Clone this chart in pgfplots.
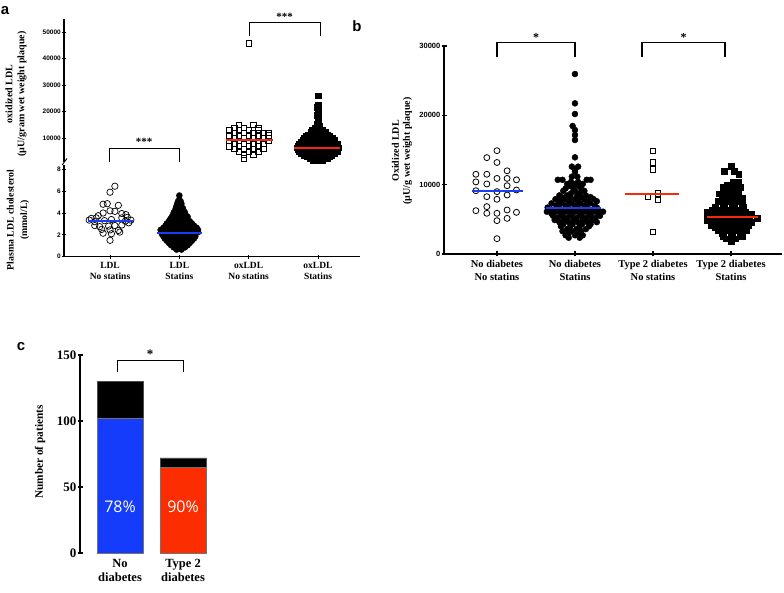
\documentclass[border=0pt]{standalone}
\usepackage{pgfplots}
\pgfplotsset{compat=1.18}
\usepackage{fontspec}
\setmainfont{Liberation Serif}
\setsansfont{Liberation Sans}
\newfontfamily\osans{Open Sans}
\definecolor{mblue}{RGB}{25,60,245}
\definecolor{mred}{RGB}{245,40,10}
\definecolor{bblue}{RGB}{20,60,250}
\definecolor{bred}{RGB}{252,45,0}
\pgfplotsset{
  panel/.style={scale only axis, clip=false, clip marker paths=true, anchor=south west,
    scaled y ticks=false, scaled x ticks=false, tick align=outside},
  noarrows/.style={axis line style={-}, every outer x axis line/.append style={-},
    every outer y axis line/.append style={-}, x axis line style={-}, y axis line style={-}},
}
\begin{document}
\begin{tikzpicture}
\path[use as bounding box] (0pt,0pt) rectangle (784pt,592pt);

% ---------------- Panel a, upper (oxLDL) ----------------
\begin{axis}[panel, at={(64pt,430.15pt)}, width=296pt, height=143.1pt,
  xmin=0.336, xmax=4.606, ymin=1000, ymax=55000,
  axis x line=none, axis y line=left, noarrows, axis line style={line width=1.1pt},
  ytick={10000,20000,30000,40000,50000}, yticklabels={10000,20000,30000,40000,50000},
  major tick length=4pt, tick style={black, line width=0.9pt},
  yticklabel style={font=\sffamily\bfseries\fontsize{6.5}{7}\selectfont, inner sep=1pt}]
\addplot[black, only marks, mark=square, mark size=2.8pt, mark options={line width=0.7pt}] coordinates {
(3.0,45700)
(2.86,14900) (3.07,14900)
(2.79,13900) (2.93,13900) (3.14,13900)
(2.72,12900) (2.86,12900) (3.0,12900) (3.14,12900)
(2.79,11900) (2.93,11900) (3.07,11900) (3.21,11900) (3.28,11900)
(2.72,10900) (2.86,10900) (3.0,10900) (3.14,10900) (3.28,10900)
(2.79,9900) (2.93,9900) (3.07,9900) (3.21,9900)
(2.72,8900) (2.86,8900) (3.0,8900) (3.14,8900) (3.28,8900)
(2.79,7900) (2.93,7900) (3.07,7900) (3.21,7900)
(2.72,6900) (2.86,6900) (3.0,6900) (3.14,6900)
(2.79,5900) (2.93,5900) (3.07,5900) (3.21,5900)
(2.86,4900) (3.0,4900) (3.14,4900)
(2.93,3700) (3.07,3700)
(2.93,2400)
};
\addplot[black, only marks, mark=square*, mark size=2.8pt] coordinates {
(4.0,26000)
(4.0,22500) (3.99,21700) (4.0,20900) (4.01,20100) (4.0,19300) (3.99,18500) (4.0,17700) (4.01,16900) (4.0,16100) (3.99,15300)
(3.98,14500) (4.02,14500)
(3.95,13700) (4.02,13700)
(3.92,12900) (4.0,12900) (4.07,12900)
(3.9,12100) (3.97,12100) (4.04,12100) (4.1,12100)
(3.86,11300) (3.93,11300) (4.0,11300) (4.07,11300) (4.13,11300)
(3.83,10600) (3.9,10600) (3.97,10600) (4.04,10600) (4.11,10600) (4.17,10600)
(3.8,9900) (3.87,9900) (3.94,9900) (4.01,9900) (4.08,9900) (4.15,9900) (4.21,9900)
(3.78,9200) (3.85,9200) (3.92,9200) (3.99,9200) (4.06,9200) (4.13,9200) (4.2,9200) (4.24,9200)
(3.75,8500) (3.82,8500) (3.89,8500) (3.96,8500) (4.03,8500) (4.1,8500) (4.17,8500) (4.24,8500)
(3.73,7800) (3.8,7800) (3.87,7800) (3.94,7800) (4.01,7800) (4.08,7800) (4.15,7800) (4.22,7800) (4.28,7800)
(3.71,7100) (3.78,7100) (3.85,7100) (3.92,7100) (3.99,7100) (4.06,7100) (4.13,7100) (4.2,7100) (4.27,7100)
(3.7,6400) (3.77,6400) (3.84,6400) (3.91,6400) (3.98,6400) (4.05,6400) (4.12,6400) (4.19,6400) (4.26,6400) (4.3,6400)
(3.71,5700) (3.78,5700) (3.85,5700) (3.92,5700) (3.99,5700) (4.06,5700) (4.13,5700) (4.2,5700) (4.27,5700)
(3.73,5000) (3.8,5000) (3.87,5000) (3.94,5000) (4.01,5000) (4.08,5000) (4.15,5000) (4.22,5000) (4.28,5000)
(3.76,4300) (3.83,4300) (3.9,4300) (3.97,4300) (4.04,4300) (4.11,4300) (4.18,4300) (4.24,4300)
(3.8,3600) (3.87,3600) (3.94,3600) (4.01,3600) (4.08,3600) (4.15,3600) (4.2,3600)
(3.84,2900) (3.91,2900) (3.98,2900) (4.05,2900) (4.12,2900) (4.17,2900)
(3.88,2200) (3.95,2200) (4.02,2200) (4.09,2200) (4.13,2200)
(3.93,1600) (4.0,1600) (4.07,1600)
};
\addplot[mred, line width=1.8pt] coordinates {(2.67,9250) (3.35,9250)};
\addplot[mred, line width=1.8pt] coordinates {(3.65,6300) (4.32,6300)};
\end{axis}

% ---------------- Panel a, lower (LDL) ----------------
\begin{axis}[panel, at={(64pt,335.3pt)}, width=296pt, height=91.8pt,
  xmin=0.336, xmax=4.606, ymin=0, ymax=8.4,
  axis x line=bottom, axis y line=left, noarrows, axis line style={line width=1.1pt},
  xtick={1,2,3,4},
  xticklabels={{LDL\\No statins},{LDL\\Statins},{oxLDL\\No statins},{oxLDL\\Statins}},
  xticklabel style={align=center, font=\bfseries\fontsize{9.5}{11}\selectfont},
  ytick={0,2,4,6,8}, yticklabels={0,2,4,6,8},
  major tick length=4pt, tick style={black, line width=0.9pt},
  yticklabel style={font=\sffamily\bfseries\fontsize{6.5}{7}\selectfont, inner sep=1pt}]
\addplot[black, only marks, mark=o, mark size=3.2pt, mark options={line width=0.7pt}] coordinates {
(1.07,6.45) (1.0,5.9) (0.9,4.8) (0.96,4.85) (1.12,4.7) (1.0,4.2) (1.07,4.15) (1.17,3.95) (1.23,3.85) (0.9,4.0) (0.83,3.75) (0.73,3.5) (0.8,3.55) (1.17,3.55) (1.25,3.6) (0.7,3.35) (0.78,3.2) (0.92,3.3) (1.02,3.4) (1.22,3.25) (1.3,3.35) (0.78,2.85) (0.85,2.75) (0.98,2.8) (1.07,2.85) (1.17,2.9) (1.27,3.1) (0.88,2.5) (1.0,2.45) (1.12,2.4) (0.9,2.15) (1.02,2.1) (1.14,2.25) (1.0,1.5)
};
\addplot[black, only marks, mark=*, mark size=3pt] coordinates {
(2.0,5.6) (2.0,5.25) (1.98,5.05) (2.02,5.05) (1.97,4.85) (2.03,4.85) (1.96,4.65) (2.02,4.65) (1.95,4.45) (2.01,4.45) (2.05,4.45) (1.94,4.25) (2.0,4.25) (2.06,4.25) (1.92,4.05) (1.98,4.05) (2.04,4.05) (2.08,4.05) (1.91,3.85) (1.97,3.85) (2.03,3.85) (2.09,3.85) (1.89,3.65) (1.95,3.65) (2.01,3.65) (2.07,3.65) (2.12,3.65) (1.87,3.45) (1.93,3.45) (1.99,3.45) (2.05,3.45) (2.11,3.45) (1.85,3.25) (1.91,3.25) (1.97,3.25) (2.03,3.25) (2.09,3.25) (2.15,3.25) (1.82,3.05) (1.88,3.05) (1.94,3.05) (2.0,3.05) (2.06,3.05) (2.12,3.05) (2.18,3.05) (1.8,2.85) (1.86,2.85) (1.92,2.85) (1.98,2.85) (2.04,2.85) (2.1,2.85) (2.16,2.85) (2.21,2.85) (1.77,2.65) (1.83,2.65) (1.89,2.65) (1.95,2.65) (2.01,2.65) (2.07,2.65) (2.13,2.65) (2.19,2.65) (2.25,2.65) (1.73,2.45) (1.79,2.45) (1.85,2.45) (1.91,2.45) (1.97,2.45) (2.03,2.45) (2.09,2.45) (2.15,2.45) (2.21,2.45) (2.27,2.45) (1.74,2.25) (1.8,2.25) (1.86,2.25) (1.92,2.25) (1.98,2.25) (2.04,2.25) (2.1,2.25) (2.16,2.25) (2.22,2.25) (2.27,2.25) (1.75,2.05) (1.81,2.05) (1.87,2.05) (1.93,2.05) (1.99,2.05) (2.05,2.05) (2.11,2.05) (2.17,2.05) (2.23,2.05) (1.77,1.85) (1.83,1.85) (1.89,1.85) (1.95,1.85) (2.01,1.85) (2.07,1.85) (2.13,1.85) (2.19,1.85) (2.23,1.85) (1.79,1.65) (1.85,1.65) (1.91,1.65) (1.97,1.65) (2.03,1.65) (2.09,1.65) (2.15,1.65) (2.21,1.65) (1.82,1.45) (1.88,1.45) (1.94,1.45) (2.0,1.45) (2.06,1.45) (2.12,1.45) (2.18,1.45) (1.85,1.25) (1.91,1.25) (1.97,1.25) (2.03,1.25) (2.09,1.25) (2.15,1.25) (1.88,1.05) (1.94,1.05) (2.0,1.05) (2.06,1.05) (2.12,1.05) (1.92,0.85) (1.98,0.85) (2.04,0.85) (2.08,0.85) (1.96,0.65) (2.03,0.65)
};
\addplot[mblue, line width=1.8pt] coordinates {(0.68,3.3) (1.33,3.3)};
\addplot[mblue, line width=1.8pt] coordinates {(1.68,2.2) (2.33,2.2)};
\draw[line width=0.9pt] (rel axis cs:-0.006,1.0) -- (rel axis cs:0.01,1.07);
\end{axis}

% ---------------- Panel b ----------------
\begin{axis}[panel, at={(444pt,338pt)}, width=338pt, height=208pt,
  xmin=0.321, xmax=4.654, ymin=0, ymax=30000,
  axis x line=bottom, axis y line=left, noarrows, axis line style={line width=1.4pt},
  xtick={1,2,3,4},
  xticklabels={{No diabetes\\No statins},{No diabetes\\Statins},{Type 2 diabetes\\No statins},{Type 2 diabetes\\Statins}},
  xticklabel style={align=center, font=\bfseries\fontsize{10.5}{13}\selectfont},
  ytick={0,10000,20000,30000}, yticklabels={0,10000,20000,30000},
  major tick length=5pt, tick style={black, line width=1.1pt},
  yticklabel style={font=\sffamily\bfseries\fontsize{7.5}{8}\selectfont, inner sep=1pt}]
\addplot[black, only marks, mark=o, mark size=3pt, mark options={line width=0.8pt}] coordinates {
(1.0,14900) (0.87,13900) (1.0,13200) (0.73,11500) (0.87,11500) (1.13,12000) (0.73,10400) (1.0,10900) (1.13,10900) (1.25,10700) (0.87,10100) (1.13,9850) (0.73,9130) (1.0,8990) (1.25,9230) (0.87,8270) (1.0,7890) (1.13,8510) (0.73,6250) (0.87,6830) (0.87,5870) (1.0,5870) (1.0,4810) (1.13,6350) (1.13,5140) (1.25,6010) (1.0,2210)
};
\addplot[black, only marks, mark=*, mark size=3pt] coordinates {
(2,25960) (2,21730) (2,20190) (1.97,18460) (2,17880) (2,17160) (2,16440) (2,13940) (1.96,12600) (2.04,12600) (2,12200) (2,11870)
(1.96,11150) (2.03,11150)
(1.78,10700) (1.84,10700) (2.15,10700) (2.2,10700)
(1.95,10400) (2.04,10400)
(1.9,10100) (2.0,10100) (2.1,10100)
(1.94,9800) (2.05,9800)
(1.88,9450) (1.98,9450) (2.08,9450)
(1.85,9100) (2.0,9100) (2.12,9100)
(1.95,8750) (2.06,8750)
(1.8,8450) (1.9,8450) (2.03,8450) (2.14,8450)
(1.83,8200) (1.94,8200) (2.08,8200) (2.2,8200)
(1.75,7900) (1.87,7900) (2.0,7900) (2.12,7900) (2.24,7900)
(1.8,7600) (1.92,7600) (2.04,7600) (2.16,7600) (2.28,7600)
(1.7,7300) (1.83,7300) (1.95,7300) (2.07,7300) (2.19,7300)
(1.76,7000) (1.88,7000) (2.0,7000) (2.12,7000) (2.25,7000)
(1.65,6700) (1.78,6700) (1.9,6700) (2.03,6700) (2.15,6700) (2.28,6700)
(1.7,6400) (1.82,6400) (1.94,6400) (2.06,6400) (2.18,6400) (2.3,6400)
(1.64,6100) (1.76,6100) (1.88,6100) (2.0,6100) (2.12,6100) (2.24,6100) (2.36,6100)
(1.7,5800) (1.82,5800) (1.94,5800) (2.06,5800) (2.18,5800) (2.3,5800)
(1.72,5500) (1.84,5500) (1.96,5500) (2.08,5500) (2.2,5500) (2.32,5500)
(1.78,5200) (1.9,5200) (2.02,5200) (2.14,5200) (2.26,5200)
(1.74,4900) (1.86,4900) (1.98,4900) (2.1,4900) (2.22,4900)
(1.8,4600) (1.92,4600) (2.04,4600) (2.16,4600) (2.28,4600)
(1.85,4300) (1.97,4300) (2.09,4300) (2.2,4300)
(1.82,4000) (1.94,4000) (2.06,4000) (2.18,4000)
(1.9,3600) (2.02,3600) (2.14,3600)
(1.84,3300) (1.96,3300) (2.08,3300)
(1.92,3000) (2.04,3000)
(1.88,2700) (2.0,2700) (2.1,2700)
(1.92,2350) (2.06,2350)
};
\addplot[black, only marks, mark=square, mark size=2.6pt, mark options={line width=0.8pt}] coordinates {
(3,14900) (3,13200) (3,12200) (2.93,8200) (3.06,8750) (3.06,7800) (3,3200)
};
\addplot[black, only marks, mark=square*, mark size=2.9pt] coordinates {
(4.0,12700) (3.91,11900) (4.04,11900) (4.1,11500)
(4.03,10400) (4.1,10400) (3.95,10000) (4.08,10000)
(3.9,9600) (4.02,9600) (4.12,9600) (3.97,9100) (4.09,9100)
(3.85,8700) (3.94,8700) (4.05,8700) (3.88,8400) (4.0,8400) (4.1,8400)
(3.92,8000) (4.03,8000) (4.14,8000) (3.84,7600) (3.96,7600) (4.08,7600)
(3.9,7200) (4.02,7200) (4.14,7200)
(3.8,6800) (3.92,6800) (4.04,6800) (4.16,6800)
(3.76,6400) (3.88,6400) (4.0,6400) (4.12,6400)
(3.7,6100) (3.82,6100) (3.94,6100) (4.06,6100) (4.18,6100)
(3.78,5800) (3.9,5800) (4.02,5800) (4.14,5800) (4.26,5800)
(3.7,5500) (3.82,5500) (3.94,5500) (4.06,5500) (4.18,5500)
(3.76,5200) (3.88,5200) (4.0,5200) (4.12,5200) (4.24,5200) (4.34,5200)
(3.7,4900) (3.82,4900) (3.94,4900) (4.06,4900) (4.18,4900)
(3.78,4600) (3.9,4600) (4.02,4600) (4.14,4600) (4.26,4600)
(3.74,4200) (3.86,4200) (3.98,4200) (4.1,4200) (4.22,4200)
(3.8,3800) (3.92,3800) (4.04,3800) (4.16,3800)
(3.84,3400) (3.96,3400) (4.08,3400) (4.2,3400)
(3.88,3000) (4.0,3000) (4.12,3000)
(3.9,2600) (4.02,2600) (4.14,2600)
(3.94,2200) (4.06,2200) (4.0,1900)
};
\addplot[mblue, line width=1.8pt] coordinates {(0.68,9100) (1.33,9100)};
\addplot[mblue, line width=1.8pt] coordinates {(1.63,6600) (2.33,6600)};
\addplot[mred, line width=1.8pt] coordinates {(2.64,8600) (3.33,8600)};
\addplot[mred, line width=1.8pt] coordinates {(3.69,5380) (4.35,5380)};
\end{axis}

% ---------------- Panel c ----------------
\begin{axis}[panel, at={(80pt,39pt)}, width=140pt, height=198pt,
  xmin=0.365, xmax=2.587, ymin=0, ymax=150,
  axis x line=bottom, axis y line=left, noarrows,
  y axis line style={line width=1.8pt}, x axis line style={draw=none},
  xtick={1,2}, xticklabels={{No\\diabetes},{Type 2\\diabetes}},
  xtick style={draw=none},
  xticklabel style={align=center, font=\bfseries\fontsize{12.5}{14.5}\selectfont},
  ytick={0,50,100,150}, yticklabels={0,50,100,150},
  major tick length=5pt, ytick style={black, line width=1.3pt},
  yticklabel style={font=\bfseries\fontsize{13}{14}\selectfont, inner sep=1pt}]
\addplot[ybar, bar width=0.73, bar shift=0pt, fill=black, draw=black!70, line width=0.4pt] coordinates {(1,130) (2,72)};
\addplot[ybar, bar width=0.73, bar shift=0pt, fill=bblue, draw=black!55, line width=0.4pt] coordinates {(1,102)};
\addplot[ybar, bar width=0.73, bar shift=0pt, fill=bred, draw=black!55, line width=0.4pt] coordinates {(2,65)};
\node[text=white, font=\osans\fontsize{16}{16}\selectfont] at (axis cs:1,35) {78\%};
\node[text=white, font=\osans\fontsize{16}{16}\selectfont] at (axis cs:2,35) {90\%};
\end{axis}

% ---------------- axis titles ----------------
\node[rotate=90, align=center, font=\bfseries\fontsize{10}{12}\selectfont] at (16pt,498pt) {oxidized LDL\\(µU/gram wet weight plaque)};
\node[rotate=90, align=center, font=\bfseries\fontsize{9.8}{13.5}\selectfont] at (18pt,372pt) {Plasma LDL cholesterol\\(mmol/L)};
\node[rotate=90, align=center, font=\bfseries\fontsize{10}{11}\selectfont] at (402pt,441pt) {Oxidized LDL\\(µU/g wet weight plaque)};
\node[rotate=90, font=\bfseries\fontsize{11.3}{12}\selectfont] at (40pt,140pt) {Number of patients};

% ---------------- panel letters ----------------
\node[font=\sffamily\bfseries\fontsize{15}{15}\selectfont] at (5pt,581pt) {a};
\node[font=\sffamily\bfseries\fontsize{15}{15}\selectfont] at (357pt,566pt) {b};
\node[font=\sffamily\bfseries\fontsize{15}{15}\selectfont] at (21pt,245pt) {c};

% ---------------- significance brackets ----------------
\draw[line width=0.9pt] (249pt,556pt) -- (249pt,569.3pt) -- (320pt,569.3pt) -- (320pt,556pt);
\node[anchor=base, font=\bfseries\fontsize{11}{11}\selectfont, inner sep=0pt] at (284.5pt,571.2pt) {***};
\draw[line width=0.9pt] (109pt,430.3pt) -- (109pt,443.3pt) -- (179pt,443.3pt) -- (179pt,430.3pt);
\node[anchor=base, font=\bfseries\fontsize{11}{11}\selectfont, inner sep=0pt] at (144pt,446.2pt) {***};
\draw[line width=1.1pt] (497pt,534.7pt) -- (497pt,549.7pt) -- (575pt,549.7pt) -- (575pt,534.7pt);
\node[anchor=base, font=\bfseries\fontsize{12}{12}\selectfont, inner sep=0pt] at (536pt,550.8pt) {*};
\draw[line width=1.1pt] (642pt,534.7pt) -- (642pt,549.7pt) -- (725pt,549.7pt) -- (725pt,534.7pt);
\node[anchor=base, font=\bfseries\fontsize{12}{12}\selectfont, inner sep=0pt] at (683.5pt,550.8pt) {*};
\draw[line width=0.9pt] (117pt,220pt) -- (117pt,232pt) -- (183pt,232pt) -- (183pt,220pt);
\node[anchor=base, font=\bfseries\fontsize{13}{13}\selectfont, inner sep=0pt] at (150pt,233.5pt) {*};
\end{tikzpicture}
\end{document}
